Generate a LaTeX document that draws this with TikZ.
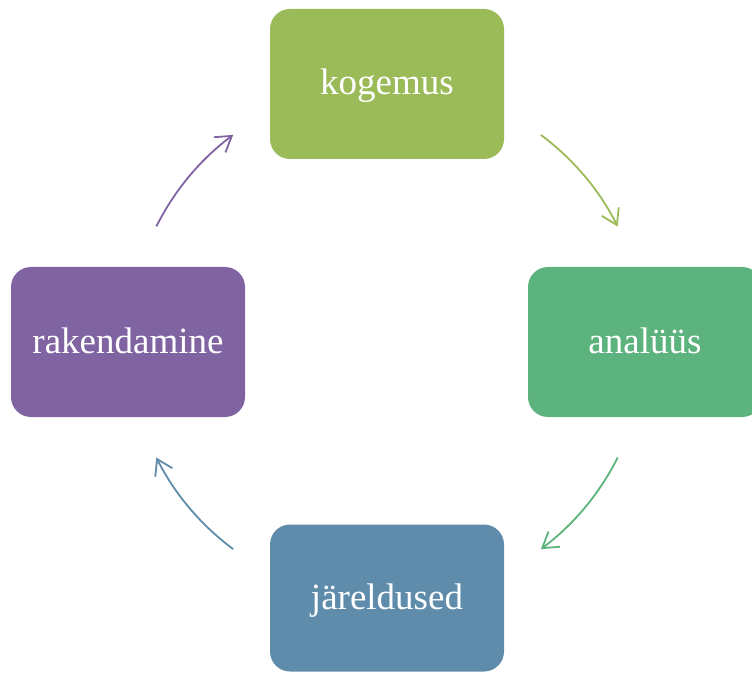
\documentclass[tikz,border=0pt]{standalone}
\usepackage{fontspec}
\setmainfont{Liberation Serif}
\usetikzlibrary{arrows.meta,positioning}
\definecolor{kogcol}{HTML}{9BBB59}
\definecolor{anacol}{HTML}{5DB37E}
\definecolor{jarcol}{HTML}{5F8CAB}
\definecolor{rakcol}{HTML}{8064A2}
\tikzset{x=1pt, y=1pt, % one unit is one pixel of the reference
stepbox/.style={rounded corners=20pt, minimum width=234pt, minimum height=150pt, text height=26pt, text depth=4pt, text=white, font=\fontsize{37}{44}\selectfont}, % the four coloured boxes
cycle arrow/.style={line width=1.8pt, -{Straight Barb[length=15pt,width=19pt]}}, % the curved arrows between the boxes
}
\begin{document}
\begin{tikzpicture}
\clip (0,0) rectangle (752,673); % the right box runs over the edge
\node[stepbox, fill=kogcol] (kog) at (387,589) {kogemus};
\node[stepbox, fill=anacol] (ana) at (645,331) {analüüs};
\node[stepbox, fill=jarcol, minimum height=147pt] (jar) at (387,75) {järeldused};
\node[stepbox, fill=rakcol] (rak) at (128,331) {rakendamine};
\coordinate (c) at (387,331);
\foreach \m/\col in {40/kogcol, -40/anacol, -140/jarcol, 140/rakcol}
  \draw[cycle arrow, \col] ([shift={(\m+13.4:258)}]c) arc[start angle=\m+13.4, end angle=\m-13.4, radius=258];
\end{tikzpicture}
\end{document}
